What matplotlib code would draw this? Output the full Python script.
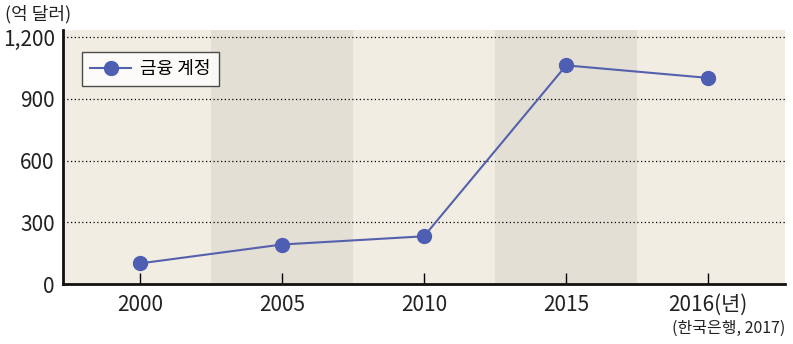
import matplotlib.pyplot as plt

plt.rcParams['font.family'] = ['Noto Sans CJK KR', 'DejaVu Sans']

# 금융 계정 (억 달러)
years = ['2000', '2005', '2010', '2015', '2016(년)']
values = [100, 192, 232, 1063, 1002]
y_ticks = [0, 300, 600, 900, 1200]
y_labels = ['0', '300', '600', '900', '1,200']

line_color = '#5561ad'
marker_color = '#4e5eb2'

fig = plt.figure(figsize=(7.93, 3.44), dpi=100)
ax = fig.add_axes([0.0794, 0.1744, 0.9106, 0.7384])
ax.set_facecolor('#f1ede3')

# shaded columns behind 2005 and 2015
for i in (1, 3):
    ax.axvspan(i - 0.5, i + 0.5, color='#e3dfd5', zorder=0, lw=0)

x = list(range(len(years)))
ax.plot(x, values, color=line_color, lw=1.5, marker='o', markersize=10,
        markerfacecolor=marker_color, markeredgecolor=marker_color,
        label='금융 계정', zorder=3)

for v in y_ticks[1:]:
    ax.axhline(v, color='black', lw=0.9, ls=(0, (1, 2)), zorder=1)

ax.set_xlim(-0.54, 4.54)
ax.set_ylim(0, 1235)
ax.set_xticks(x)
ax.set_xticklabels(years, fontsize=15, color='#222222')
ax.set_yticks(y_ticks)
ax.set_yticklabels(y_labels, fontsize=15, color='#222222')
ax.tick_params(axis='x', direction='in', length=8, width=1, pad=7)
ax.tick_params(axis='y', length=0, pad=6)

for side in ('top', 'right'):
    ax.spines[side].set_visible(False)
for side in ('left', 'bottom'):
    ax.spines[side].set_linewidth(2)
    ax.spines[side].set_color('#111111')

leg = ax.legend(loc='upper left', bbox_to_anchor=(0.026, 0.913), fontsize=13,
                frameon=True, fancybox=False, handlelength=2.3,
                borderpad=0.45, handletextpad=0.5, borderaxespad=0)
leg.get_frame().set_edgecolor('#222222')
leg.get_frame().set_facecolor('white')
leg.get_frame().set_linewidth(1)

fig.text(0.006, 0.985, '(억 달러)', fontsize=13, va='top', ha='left', color='#222222')
fig.text(0.99, 0.02, '(한국은행, 2017)', fontsize=11.5, va='bottom', ha='right', color='#222222')

fig.savefig('out.png', dpi=100)
